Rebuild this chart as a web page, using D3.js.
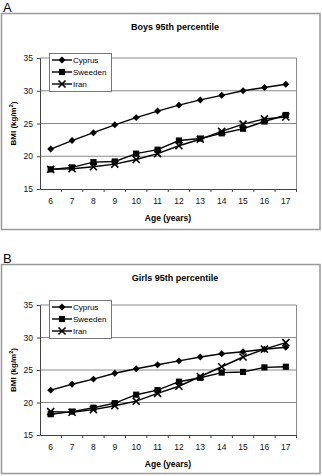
<!DOCTYPE html>
<html>
<head>
<meta charset="utf-8">
<script src="https://cdn.jsdelivr.net/npm/d3@7"></script>
<style>
  body { margin: 0; background: #fff; }
  text { font-family: "Liberation Sans", Arial, sans-serif; }
</style>
</head>
<body>
<script>
const ages = [6, 7, 8, 9, 10, 11, 12, 13, 14, 15, 16, 17];
const yTicks = [15, 20, 25, 30, 35];
const seriesNames = ["Cyprus", "Sweeden", "Iran"];

// Boys 95th percentile
const boysCyprus  = [21.1, 22.4, 23.6, 24.8, 25.9, 26.9, 27.8, 28.6, 29.3, 30.0, 30.5, 31.0];
const boysSweden  = [18.0, 18.3, 19.1, 19.2, 20.4, 21.0, 22.4, 22.7, 23.5, 24.2, 25.3, 26.3];
const boysIran    = [18.0, 18.1, 18.4, 18.8, 19.5, 20.4, 21.6, 22.6, 23.8, 24.9, 25.7, 26.0];

// Girls 95th percentile
const girlsCyprus = [21.9, 22.8, 23.6, 24.5, 25.2, 25.8, 26.4, 27.0, 27.5, 27.8, 28.2, 28.5];
const girlsSweden = [18.2, 18.6, 19.2, 19.9, 21.2, 21.9, 23.2, 23.8, 24.6, 24.7, 25.4, 25.5];
const girlsIran   = [18.6, 18.5, 18.9, 19.5, 20.2, 21.4, 22.5, 24.0, 25.5, 27.0, 28.2, 29.2];

const panels = [
  { letter: "A", title: "Boys 95th percentile", data: [boysCyprus, boysSweden, boysIran],
    top: 13, plotTop: 58, plotBottom: 189, frameBottom: 230 },
  { letter: "B", title: "Girls 95th percentile", data: [girlsCyprus, girlsSweden, girlsIran],
    top: 264, plotTop: 305, plotBottom: 435, frameBottom: 474 }
];

const width = 322, height = 476;
const svg = d3.select("body").append("svg")
  .attr("width", width)
  .attr("height", height);

// diamond = square turned 45deg, square, cross
const symbols = [d3.symbolSquare, d3.symbolSquare, d3.symbolX];
const symSizes = [24, 38, 34];
const symRot = [45, 0, 0];

function drawMarker(g, i, x, y) {
  const s = d3.symbol().type(symbols[i]).size(symSizes[i]);
  const p = g.append("path")
    .attr("d", s())
    .attr("transform", "translate(" + x + "," + y + ") rotate(" + symRot[i] + ")");
  if (i == 2) p.attr("fill", "none").attr("stroke", "#000").attr("stroke-width", 1.6);
  else p.attr("fill", "#000");
}

panels.forEach(function(pan) {
  const g = svg.append("g");

  g.append("text")
    .attr("x", 3).attr("y", pan.top - 1)
    .attr("font-size", 13)
    .text(pan.letter);

  g.append("rect")
    .attr("x", 1.5).attr("y", pan.top + 0.5)
    .attr("width", 318.5).attr("height", pan.frameBottom - pan.top - 1)
    .attr("fill", "none").attr("stroke", "#999").attr("stroke-width", 1.5);

  g.append("text")
    .attr("x", 175).attr("y", pan.top + 17)
    .attr("text-anchor", "middle")
    .attr("font-size", 9).attr("font-weight", "bold")
    .text(pan.title);

  const x = d3.scaleBand().domain(ages).range([40, 296.5]);
  const y = d3.scaleLinear().domain([15, 35]).range([pan.plotBottom, pan.plotTop]);

  // gridlines
  g.append("g").selectAll("line")
    .data(yTicks.filter(function(d) { return d > 15; }))
    .enter().append("line")
    .attr("x1", 40).attr("x2", 296.5)
    .attr("y1", function(d) { return y(d); })
    .attr("y2", function(d) { return y(d); })
    .attr("stroke", "#8a8a8a")
    .attr("stroke-width", 1);

  // right border of plot area
  g.append("line")
    .attr("x1", 296.5).attr("x2", 296.5)
    .attr("y1", pan.plotTop).attr("y2", pan.plotBottom)
    .attr("stroke", "#8a8a8a");

  const yAxis = g.append("g")
    .attr("transform", "translate(40,0)")
    .call(d3.axisLeft(y).tickValues(yTicks).tickSize(3).tickPadding(4));
  yAxis.select(".domain").attr("stroke", "#444");
  yAxis.selectAll(".tick line").attr("stroke", "#444");
  yAxis.selectAll("text").attr("font-size", 8.5).attr("fill", "#111")
    .attr("font-family", "Liberation Sans, Arial, sans-serif");

  const xAxis = g.append("g")
    .attr("transform", "translate(0," + pan.plotBottom + ")")
    .call(d3.axisBottom(x).tickSize(0).tickPadding(9));
  xAxis.select(".domain").attr("stroke", "#444");
  xAxis.selectAll("text").attr("font-size", 8.5).attr("fill", "#111")
    .attr("font-family", "Liberation Sans, Arial, sans-serif");
  // category separator ticks
  xAxis.selectAll(".sep")
    .data(ages)
    .enter().append("line")
    .attr("class", "sep")
    .attr("x1", function(d) { return x(d) + x.bandwidth(); })
    .attr("x2", function(d) { return x(d) + x.bandwidth(); })
    .attr("y1", 0).attr("y2", 3)
    .attr("stroke", "#444");

  g.append("text")
    .attr("x", 168).attr("y", pan.plotBottom + 32)
    .attr("text-anchor", "middle")
    .attr("font-size", 8.5).attr("font-weight", "bold")
    .text("Age (years)");

  const cy = (pan.plotTop + pan.plotBottom) / 2;
  const yl = g.append("text")
    .attr("transform", "translate(16," + cy + ") rotate(-90)")
    .attr("text-anchor", "middle")
    .attr("font-size", 8).attr("font-weight", "bold");
  yl.append("tspan").text("BMI (kg/m");
  yl.append("tspan").attr("dy", -3).attr("font-size", 5.5).text("2");
  yl.append("tspan").attr("dy", 3).text(")");

  const line = d3.line()
    .x(function(d, i) { return x(ages[i]) + x.bandwidth() / 2; })
    .y(function(d) { return y(d); });

  pan.data.forEach(function(vals, si) {
    g.append("path")
      .attr("d", line(vals))
      .attr("fill", "none")
      .attr("stroke", "#000")
      .attr("stroke-width", 1.4);
    vals.forEach(function(v, i) {
      drawMarker(g, si, x(ages[i]) + x.bandwidth() / 2, y(v));
    });
  });

  // legend
  const lg = g.append("g").attr("transform", "translate(49," + (pan.plotTop - 5) + ")");
  lg.append("rect")
    .attr("x", 0.5).attr("y", 0.5)
    .attr("width", 62).attr("height", 38)
    .attr("fill", "#fff").attr("stroke", "#777");
  seriesNames.forEach(function(name, i) {
    const ly = 7 + i * 12;
    lg.append("line")
      .attr("x1", 3).attr("x2", 23)
      .attr("y1", ly).attr("y2", ly)
      .attr("stroke", "#000").attr("stroke-width", 1.4);
    drawMarker(lg, i, 13, ly);
    lg.append("text")
      .attr("x", 24).attr("y", ly + 3)
      .attr("font-size", 8)
      .text(name);
  });
});
</script>
</body>
</html>
